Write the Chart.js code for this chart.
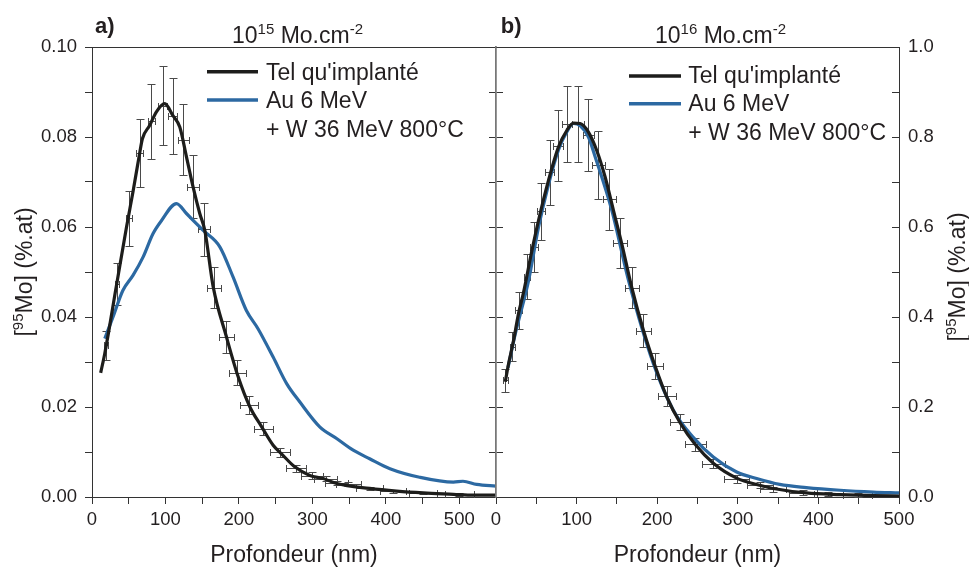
<!DOCTYPE html>
<html>
<head>
<meta charset="utf-8">
<script src="https://cdn.jsdelivr.net/npm/chart.js@4.4.1/dist/chart.umd.min.js"></script>
<style>
  html, body { margin: 0; padding: 0; background: #fff; }
  #wrap { position: relative; width: 969px; height: 567px; overflow: hidden; }
  canvas { position: absolute; top: 0; }
  #chartA { left: 0; }
  #chartB { left: 480px; }
</style>
</head>
<body>
<div id="wrap">
  <canvas id="chartA" width="510" height="567"></canvas>
  <canvas id="chartB" width="489" height="567"></canvas>
</div>
<script>
// ================= DATA : panel a) 10^15 Mo.cm-2 =================
const depthA_impl = [11.8, 17.4, 33, 47, 56, 65, 68.6, 78.6, 87.7, 99, 110, 119.5, 128.6, 137.6, 146.7, 153.5, 165, 183, 199, 215, 231, 246.6, 258, 276, 296.6, 314.7, 333, 378, 414.7, 451, 492, 519, 551];
const concA_impl  = [0.0276, 0.0319, 0.0467, 0.0600, 0.0680, 0.0765, 0.0796, 0.0826, 0.0856, 0.0874, 0.0848, 0.0822, 0.0756, 0.0689, 0.0630, 0.0593, 0.0467, 0.0356, 0.0267, 0.0200, 0.0156, 0.0115, 0.0096, 0.0067, 0.0048, 0.0041, 0.0030, 0.0019, 0.0013, 0.0009, 0.0006, 0.0004, 0.0004];

const depthA_recuit = [17.4, 28.6, 42, 56, 69.5, 83, 94.5, 115, 128.6, 151, 174, 192, 210, 226, 246.6, 265, 283, 310, 333, 355.6, 378, 405.6, 446, 492, 505, 523.7, 551];
const concA_recuit  = [0.0352, 0.0400, 0.0459, 0.0493, 0.0533, 0.0585, 0.0614, 0.0652, 0.0630, 0.0593, 0.0556, 0.0489, 0.0415, 0.0374, 0.0311, 0.0252, 0.0211, 0.0156, 0.0130, 0.0104, 0.0085, 0.0063, 0.0044, 0.0033, 0.0035, 0.0028, 0.0024];

// barres d'erreur (tel qu'implanté)
const errA_x  = [19, 34, 50, 65, 81, 96, 110, 124, 138, 152, 166, 183, 198, 214, 233, 256, 278, 300, 318, 333, 349, 378, 410, 451, 500];
const errA_y  = [0.0337, 0.0473, 0.0619, 0.0765, 0.0835, 0.0870, 0.0847, 0.0794, 0.0689, 0.0595, 0.0465, 0.0355, 0.0276, 0.0205, 0.0152, 0.0100, 0.0064, 0.0047, 0.0041, 0.0031, 0.0029, 0.0019, 0.0013, 0.0009, 0.0006];
const errA_dx = [3, 3, 4, 4.5, 5, 6, 6, 7.5, 8, 8, 9, 10, 11, 12, 13, 14, 14, 15, 16, 16, 17, 18, 18, 19, 20];
const errA_dy = [0.0033, 0.0047, 0.0062, 0.0076, 0.0083, 0.0087, 0.0084, 0.0079, 0.0070, 0.0059, 0.0046, 0.0036, 0.0028, 0.0020, 0.0015, 0.0010, 0.0008, 0.0008, 0.0006, 0.0005, 0.0004, 0.0004, 0.0003, 0.0003, 0.0003];

// ================= DATA : panel b) 10^16 Mo.cm-2 =================
const depthB_impl = [11.5, 15.6, 21.8, 28, 34.2, 44.6, 52.8, 65.2, 77.6, 88, 96.2, 104.5, 114.7, 125, 135.4, 145.7, 156, 168.5, 183, 197.4, 212, 228.4, 247, 269.6, 298.6, 327, 344, 385, 427, 468, 500];
const concB_impl  = [0.256, 0.296, 0.348, 0.408, 0.455, 0.548, 0.615, 0.704, 0.778, 0.815, 0.831, 0.830, 0.811, 0.770, 0.711, 0.637, 0.563, 0.465, 0.370, 0.291, 0.222, 0.165, 0.117, 0.075, 0.042, 0.026, 0.019, 0.009, 0.0053, 0.003, 0.002];

const depthB_recuit = [14.9, 24, 40.4, 52.8, 65.2, 77.6, 88, 96.2, 104.5, 114.7, 123, 143.7, 164.3, 195.3, 220, 245, 269.6, 298.6, 323.4, 352, 385, 427, 468, 500];
const concB_recuit  = [0.2875, 0.363, 0.481, 0.600, 0.695, 0.772, 0.812, 0.830, 0.825, 0.800, 0.756, 0.637, 0.482, 0.296, 0.193, 0.132, 0.089, 0.0556, 0.041, 0.028, 0.021, 0.015, 0.011, 0.009];

const errB_x  = [11.5, 20, 28, 38.4, 46.6, 55.7, 66.4, 76.8, 88, 101.6, 114.7, 127, 140.8, 154, 168.5, 183, 197.4, 212, 228.4, 247, 269.6, 298.6, 327.5, 344, 381, 412, 449];
const errB_y  = [0.259, 0.334, 0.415, 0.490, 0.556, 0.635, 0.722, 0.781, 0.829, 0.829, 0.805, 0.738, 0.662, 0.565, 0.465, 0.370, 0.291, 0.224, 0.167, 0.117, 0.074, 0.041, 0.026, 0.017, 0.010, 0.007, 0.004];
const errB_dx = [3, 3, 4, 4, 5, 5, 6, 6, 6, 7, 7, 8, 8, 9, 9, 9.7, 10, 11, 12, 13, 14.5, 15.5, 16, 16, 17, 18, 18];
const errB_dy = [0.026, 0.032, 0.041, 0.049, 0.056, 0.063, 0.072, 0.079, 0.084, 0.084, 0.080, 0.075, 0.068, 0.056, 0.046, 0.037, 0.0285, 0.022, 0.017, 0.014, 0.010, 0.009, 0.007, 0.006, 0.005, 0.004, 0.004];

// étiquettes des axes
const xLabelValues = [0, 100, 200, 300, 400, 500];
const yLabelsA = [0, 0.02, 0.04, 0.06, 0.08, 0.10];
const yLabelsB = [0, 0.2, 0.4, 0.6, 0.8, 1.0];

const FONT = "'Liberation Sans', Arial, sans-serif";
const BLACK = "#1d1d1b";
const BLUE = "#2c69a2";
const AXIS = "#333333";
Chart.defaults.font.family = FONT;
Chart.defaults.color = "#231f20";

const toPts = (xs, ys) => xs.map((x, i) => ({ x: x, y: ys[i] }));
const isLabel = (list, v) => list.some(t => Math.abs(t - v) < 1e-9);

// ================= PLUGINS =================
function makeErrorBars(xs, ys, dxs, dys) {
  return {
    id: "errorBars",
    beforeDatasetsDraw(chart) {
      const { ctx, scales: { x, y } } = chart;
      const r = v => Math.round(v) + 0.5;
      ctx.save();
      ctx.strokeStyle = "#4a4a4a";
      ctx.lineWidth = 1;
      xs.forEach((xv, i) => {
        const px = r(x.getPixelForValue(xv));
        const py = r(y.getPixelForValue(ys[i]));
        const y1 = r(y.getPixelForValue(ys[i] - dys[i]));
        const y2 = r(y.getPixelForValue(ys[i] + dys[i]));
        const x1 = r(x.getPixelForValue(xv - dxs[i]));
        const x2 = r(x.getPixelForValue(xv + dxs[i]));
        ctx.beginPath();
        ctx.moveTo(px, y1); ctx.lineTo(px, y2);
        ctx.moveTo(px - 4, y1); ctx.lineTo(px + 4, y1);
        ctx.moveTo(px - 4, y2); ctx.lineTo(px + 4, y2);
        ctx.moveTo(x1, py); ctx.lineTo(x2, py);
        ctx.moveTo(x1, py - 3.5); ctx.lineTo(x1, py + 3.5);
        ctx.moveTo(x2, py - 3.5); ctx.lineTo(x2, py + 3.5);
        ctx.stroke();
      });
      ctx.restore();
    }
  };
}

// parts: [texte, taille, décalage vertical]
function drawRich(ctx, parts, x, y, align) {
  let w = 0;
  parts.forEach(p => { ctx.font = p[1] + "px " + FONT; w += ctx.measureText(p[0]).width; });
  let cx = align === "center" ? x - w / 2 : x;
  parts.forEach(p => {
    ctx.font = p[1] + "px " + FONT;
    ctx.fillText(p[0], cx, y - (p[2] || 0));
    cx += ctx.measureText(p[0]).width;
  });
}

const yTitleParts = [["[", 23], ["95", 15, 9], ["Mo] (%.at)", 23]];

function makeTexts(cfg) {
  return {
    id: "texts",
    afterDraw(chart) {
      const ctx = chart.ctx;
      ctx.save();
      ctx.fillStyle = "#231f20";
      ctx.textBaseline = "alphabetic";
      ctx.textAlign = "left";
      // lettre du panneau
      ctx.font = "bold 22px " + FONT;
      ctx.fillText(cfg.letter, cfg.letterX, 33);
      // titre (dose)
      drawRich(ctx, [["10", 23], [cfg.dose, 15, 9], [" Mo.cm", 23], ["-2", 15, 9]], cfg.titleX, 43, "left");
      // titre de l'axe y
      ctx.save();
      ctx.translate(cfg.yTitleX, cfg.yTitleY);
      ctx.rotate(-Math.PI / 2);
      drawRich(ctx, yTitleParts, 0, 0, "center");
      ctx.restore();
      // légende
      const ds = chart.data.datasets;
      ctx.lineWidth = 3.5;
      [0, 1].forEach(i => {
        ctx.strokeStyle = ds[i].borderColor;
        ctx.beginPath();
        ctx.moveTo(cfg.legX1, cfg.legY[i] - cfg.legOff);
        ctx.lineTo(cfg.legX2, cfg.legY[i] - cfg.legOff);
        ctx.stroke();
      });
      ctx.font = "23px " + FONT;
      ctx.fillText(ds[0].label, cfg.legTextX, cfg.legY[0]);
      ctx.fillText(ds[1].label, cfg.legTextX, cfg.legY[1]);
      ctx.fillText("+ W 36 MeV 800°C", cfg.legTextX, cfg.legY[2]);
      ctx.restore();
    }
  };
}

function lineSet(label, xs, ys, color) {
  return {
    label: label,
    data: toPts(xs, ys),
    borderColor: color,
    backgroundColor: color,
    borderWidth: 3.2,
    pointRadius: 0,
    cubicInterpolationMode: "monotone",
    fill: false
  };
}

function xAxis(max) {
  return {
    type: "linear", position: "bottom", min: 0, max: max,
    afterFit: s => { s.height = 70; },
    ticks: {
      stepSize: 50, autoSkip: false, maxRotation: 0, padding: 5,
      font: { size: 18.5 },
      callback: v => isLabel(xLabelValues, v) ? String(v) : ""
    },
    grid: { drawOnChartArea: false, tickLength: 7, color: AXIS },
    border: { color: AXIS, width: 1 },
    title: { display: true, text: "Profondeur (nm)", font: { size: 23 }, padding: { top: 0, bottom: -2 } }
  };
}
function topAxis(max) {
  return {
    type: "linear", position: "top", min: 0, max: max,
    afterFit: s => { s.height = 0; },
    ticks: { display: false },
    grid: { display: false },
    border: { color: AXIS, width: 1 }
  };
}

// ================= CHART a) =================
new Chart(document.getElementById("chartA").getContext("2d"), {
  type: "line",
  data: {
    datasets: [
      lineSet("Tel qu'implanté", depthA_impl, concA_impl, BLACK),
      lineSet("Au 6 MeV", depthA_recuit, concA_recuit, BLUE)
    ]
  },
  options: {
    responsive: false,
    animation: false,
    events: [],
    layout: { padding: { top: 47, left: 0, right: 0, bottom: 0 } },
    plugins: { legend: { display: false }, tooltip: { enabled: false } },
    scales: {
      x: xAxis(550),
      xTop: topAxis(550),
      y: {
        type: "linear", position: "left", min: 0, max: 0.1,
        afterFit: s => { s.width = 92; },
        ticks: {
          stepSize: 0.01, padding: 8, font: { size: 18.5 },
          callback: v => isLabel(yLabelsA, v) ? v.toFixed(2) : ""
        },
        grid: { drawOnChartArea: false, tickLength: 7, color: AXIS },
        border: { color: AXIS, width: 1 }
      },
      yRight: {
        type: "linear", position: "right", min: 0, max: 0.1,
        afterFit: s => { s.width = 14; },
        ticks: { stepSize: 0.01, display: false },
        grid: { drawOnChartArea: false, tickLength: 7, color: AXIS },
        border: { color: "#777", width: 1.5 }
      }
    }
  },
  plugins: [
    makeErrorBars(errA_x, errA_y, errA_dx, errA_dy),
    makeTexts({
      letter: "a)", letterX: 95, dose: "15", titleX: 232,
      yTitleX: 32, yTitleY: 272,
      legX1: 207, legX2: 258, legY: [80, 108.3, 136.7], legOff: 8.3, legTextX: 266
    })
  ]
});

// ================= CHART b) =================
new Chart(document.getElementById("chartB").getContext("2d"), {
  type: "line",
  data: {
    datasets: [
      lineSet("Tel qu'implanté", depthB_impl, concB_impl, BLACK),
      lineSet("Au 6 MeV", depthB_recuit, concB_recuit, BLUE)
    ]
  },
  options: {
    responsive: false,
    animation: false,
    events: [],
    layout: { padding: { top: 47, left: 0, right: 0, bottom: 0 } },
    plugins: { legend: { display: false }, tooltip: { enabled: false } },
    scales: {
      x: xAxis(500),
      xTop: topAxis(500),
      yLeft: {
        type: "linear", position: "left", min: 0, max: 1,
        afterFit: s => { s.width = 16; },
        ticks: { stepSize: 0.1, display: false },
        grid: { drawOnChartArea: false, tickLength: 7, color: AXIS },
        border: { color: "#777", width: 1.5 }
      },
      y: {
        type: "linear", position: "right", min: 0, max: 1,
        afterFit: s => { s.width = 70; },
        ticks: {
          stepSize: 0.1, padding: 16, font: { size: 18.5 },
          callback: v => isLabel(yLabelsB, v) ? v.toFixed(1) : ""
        },
        grid: { drawOnChartArea: false, tickLength: -7, color: AXIS },
        border: { color: AXIS, width: 1 }
      }
    }
  },
  plugins: [
    makeErrorBars(errB_x, errB_y, errB_dx, errB_dy),
    makeTexts({
      letter: "b)", letterX: 20.7, dose: "16", titleX: 175,
      yTitleX: 485, yTitleY: 277,
      legX1: 149, legX2: 201, legY: [83.3, 111, 140], legOff: 7.3, legTextX: 208.3
    })
  ]
});
</script>
</body>
</html>
